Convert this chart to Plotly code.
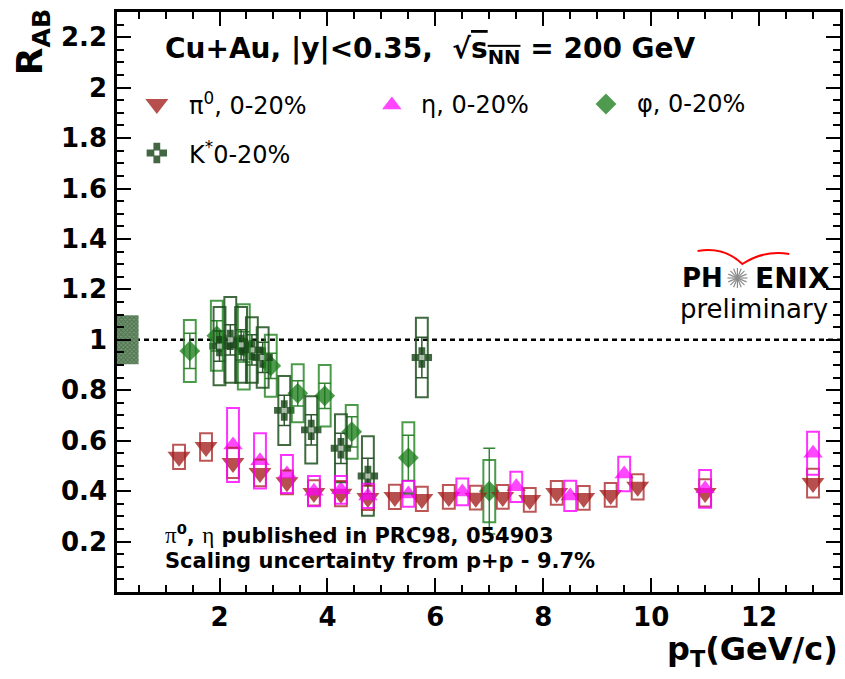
import numpy as np
import plotly.graph_objects as go

# ---------------- data ----------------
pi0_pt = [1.25, 1.75, 2.25, 2.75, 3.25, 3.75, 4.25, 4.75, 5.25, 5.75,
          6.25, 6.75, 7.25, 7.75, 8.25, 8.75, 9.25, 9.75, 11.0, 13.0]
pi0_raa = [0.536, 0.575, 0.512, 0.472, 0.435, 0.393, 0.390, 0.373, 0.377, 0.369,
           0.377, 0.374, 0.377, 0.365, 0.393, 0.373, 0.385, 0.417, 0.393, 0.432]
pi0_sys = [0.048, 0.055, 0.060, 0.053, 0.047, 0.050, 0.050, 0.048, 0.048, 0.048,
           0.047, 0.047, 0.047, 0.047, 0.047, 0.047, 0.047, 0.050, 0.054, 0.057]

eta_pt = [2.25, 2.75, 3.25, 3.75, 4.25, 4.75, 5.5, 6.5, 7.5, 8.5, 9.5, 11.0, 13.0]
eta_raa = [0.583, 0.520, 0.468, 0.400, 0.405, 0.381, 0.389, 0.397, 0.417, 0.381, 0.468, 0.409, 0.550]
eta_sys = [0.147, 0.110, 0.075, 0.060, 0.055, 0.048, 0.051, 0.053, 0.060, 0.060, 0.068, 0.075, 0.085]

phi_pt = [1.45, 1.95, 2.45, 2.95, 3.45, 3.95, 4.45, 5.5, 7.0]
phi_raa = [0.956, 1.016, 0.972, 0.897, 0.788, 0.778, 0.635, 0.532, 0.400]
phi_sys = [0.123, 0.139, 0.169, 0.123, 0.115, 0.122, 0.107, 0.141, 0.123]
phi_stat = [0.070, 0.060, 0.060, 0.050, 0.050, 0.050, 0.060, 0.090, 0.170]

kst_pt = [2.0, 2.2, 2.4, 2.6, 2.8, 3.2, 3.7, 4.25, 4.75, 5.75]
kst_raa = [0.975, 1.000, 0.980, 0.960, 0.930, 0.720, 0.643, 0.570, 0.460, 0.930]
kst_sys = [0.155, 0.170, 0.150, 0.130, 0.120, 0.137, 0.133, 0.135, 0.158, 0.158]
kst_stat = [0.060, 0.060, 0.060, 0.060, 0.060, 0.060, 0.060, 0.060, 0.070, 0.080]

scale_unc = 0.097
x_range = [0.1, 13.5]
y_range = [0.0, 2.3]
x_ticks = [2, 4, 6, 8, 10, 12]
y_ticks = [0.2, 0.4, 0.6, 0.8, 1.0, 1.2, 1.4, 1.6, 1.8, 2.0, 2.2]
y_ticktext = ["0.2", "0.4", "0.6", "0.8", "1", "1.2", "1.4", "1.6", "1.8", "2", "2.2"]

# ---------------- styles ----------------
W, H = 845, 679
ML, MR, MT, MB = 117, 2, 12, 87
PW, PH = W - ML - MR, H - MT - MB
FONT = "DejaVu Sans"

C_PI0 = "rgba(160,20,20,0.75)"
C_ETA = "rgba(255,0,255,0.72)"
C_PHI = "rgba(20,120,20,0.75)"
C_KST = "rgba(25,70,25,0.82)"
BOX_HW = 0.11


def px(x):
    return (x - ML) / PW


def py(y):
    return (H - MB - y) / PH


fig = go.Figure()
shapes = []

# scaling uncertainty box at 1
fig.add_trace(go.Bar(x=[0.3], y=[2 * scale_unc], base=[1 - scale_unc], width=[0.4],
                     marker=dict(color="rgba(100,135,100,1)", line=dict(width=0),
                                 pattern=dict(shape="x", fgcolor="rgba(35,75,35,1)",
                                              bgcolor="rgba(115,150,115,1)", size=3, solidity=0.5)),
                     showlegend=False, hoverinfo="skip"))


def add_boxes(xs, ys, ss, color):
    for x, y, s in zip(xs, ys, ss):
        shapes.append(dict(type="rect", xref="x", yref="y", x0=x - BOX_HW, x1=x + BOX_HW,
                           y0=y - s, y1=y + s, line=dict(color=color, width=2),
                           fillcolor="rgba(0,0,0,0)", layer="above"))


add_boxes(phi_pt, phi_raa, phi_sys, "rgba(30,130,30,0.8)")
add_boxes(kst_pt, kst_raa, kst_sys, "rgba(30,80,30,0.85)")
add_boxes(pi0_pt, pi0_raa, pi0_sys, "rgba(165,30,30,0.75)")
add_boxes(eta_pt, eta_raa, eta_sys, "rgba(255,0,255,0.8)")

# dotted line at 1
shapes.append(dict(type="line", xref="paper", yref="y", x0=0, x1=1, y0=1, y1=1,
                   line=dict(color="black", width=2.5, dash="5px,4px"), layer="below"))

fig.add_trace(go.Scatter(x=phi_pt, y=phi_raa, mode="markers",
                         marker=dict(symbol="diamond", size=16, color=C_PHI, line=dict(width=0)),
                         error_y=dict(type="data", array=phi_stat, color="rgba(30,120,30,0.9)",
                                      thickness=1.5, width=6),
                         showlegend=False))
fig.add_trace(go.Scatter(x=kst_pt, y=kst_raa, mode="markers",
                         marker=dict(symbol="cross", size=17, color=C_KST, line=dict(width=0)),
                         error_y=dict(type="data", array=kst_stat, color="rgba(25,70,25,0.9)",
                                      thickness=1.5, width=6),
                         showlegend=False))
fig.add_trace(go.Scatter(x=kst_pt, y=kst_raa, mode="markers",
                         marker=dict(symbol="square", size=5, color="rgba(255,255,255,0.6)", line=dict(width=0)),
                         showlegend=False, hoverinfo="skip"))
fig.add_trace(go.Scatter(x=pi0_pt, y=pi0_raa, mode="markers",
                         marker=dict(symbol="triangle-down", size=20, color=C_PI0, line=dict(width=0)),
                         showlegend=False))
fig.add_trace(go.Scatter(x=eta_pt, y=eta_raa, mode="markers",
                         marker=dict(symbol="triangle-up", size=17, color=C_ETA, line=dict(width=0)),
                         showlegend=False))

# ---------------- legend (manual) ----------------
leg_items = [
    ("triangle-down", 20, C_PI0, 157, 104, "π<sup>0</sup>, 0-20%", 187),
    ("triangle-up", 17, C_ETA, 393, 105, "η, 0-20%", 420),
    ("diamond", 16, C_PHI, 608, 104, "φ, 0-20%", 637),
    ("cross", 17, C_KST, 157, 153, "K<sup>*</sup>0-20%", 187),
]
annotations = []
for sym, sz, col, mx, my, txt, tx in leg_items:
    fig.add_trace(go.Scatter(x=[px(mx)], y=[py(my)], xaxis="x2", yaxis="y2", mode="markers",
                             marker=dict(symbol=sym, size=sz, color=col, line=dict(width=0)),
                             showlegend=False, hoverinfo="skip"))
    annotations.append(dict(xref="paper", yref="paper", x=px(tx), y=py(my), text=txt,
                            showarrow=False, xanchor="left", yanchor="middle",
                            font=dict(family=FONT, size=24, color="black")))
fig.add_trace(go.Scatter(x=[px(157)], y=[py(153)], xaxis="x2", yaxis="y2", mode="markers",
                         marker=dict(symbol="square", size=5, color="white"),
                         showlegend=False, hoverinfo="skip"))

# ---------------- texts ----------------
annotations.append(dict(xref="paper", yref="paper", x=px(163), y=py(50), xanchor="left", yanchor="middle",
                        text="<b>Cu+Au, |y|&lt;0.35,  √<span style='text-decoration:overline'>s<sub>NN</sub></span> = 200 GeV</b>",
                        showarrow=False, font=dict(family=FONT, size=28, color="black")))
annotations.append(dict(xref="paper", yref="paper", x=px(163), y=py(534), xanchor="left", yanchor="middle",
                        text="<span style='font-family:Liberation Serif;font-size:23px'>π</span><b><sup>0</sup>, </b>"
                             "<span style='font-family:Liberation Serif;font-size:23px'>η</span><b> published in PRC98, 054903</b>",
                        showarrow=False, font=dict(family=FONT, size=21, color="black")))
annotations.append(dict(xref="paper", yref="paper", x=px(163), y=py(561), xanchor="left", yanchor="middle",
                        text="<b>Scaling uncertainty from p+p - 9.7%</b>",
                        showarrow=False, font=dict(family=FONT, size=21, color="black")))
# axis titles
annotations.append(dict(xref="paper", yref="paper", x=px(843), y=py(651), xanchor="right", yanchor="middle",
                        text="<b>p<sub>T</sub>(GeV/c)</b>", showarrow=False,
                        font=dict(family=FONT, size=32, color="black")))
annotations.append(dict(xref="paper", yref="paper", x=px(32), y=py(42), xanchor="center", yanchor="middle",
                        text="<b>R<sub>AB</sub></b>", showarrow=False, textangle=-90,
                        font=dict(family=FONT, size=36, color="black")))
# PHENIX logo
annotations.append(dict(xref="paper", yref="paper", x=px(682), y=py(278), xanchor="left", yanchor="middle",
                        text="<b>PH</b>", showarrow=False, font=dict(family=FONT, size=26, color="black")))
annotations.append(dict(xref="paper", yref="paper", x=px(835), y=py(278), xanchor="right", yanchor="middle",
                        text="<b>ENIX</b>", showarrow=False, font=dict(family=FONT, size=28, color="black")))
annotations.append(dict(xref="paper", yref="paper", x=px(680), y=py(309), xanchor="left", yanchor="middle",
                        text="preliminary", showarrow=False, font=dict(family=FONT, size=26, color="black")))
cx, cy = 740, 278
for a in np.arange(0, 180, 22.5):
    r = 10
    dx, dy = r * np.cos(np.radians(a)), r * np.sin(np.radians(a))
    shapes.append(dict(type="line", xref="paper", yref="paper", x0=px(cx - dx), y0=py(cy - dy),
                       x1=px(cx + dx), y1=py(cy + dy), line=dict(color="rgba(140,140,140,1)", width=1.2)))
arc = [(700, 251), (726, 246), (745, 264), (766, 250), (792, 254)]
path = "M {:.4f},{:.4f} Q {:.4f},{:.4f} {:.4f},{:.4f} Q {:.4f},{:.4f} {:.4f},{:.4f}".format(
    px(arc[0][0]), py(arc[0][1]), px(arc[1][0]), py(arc[1][1]), px(arc[2][0]), py(arc[2][1]),
    px(arc[3][0]), py(arc[3][1]), px(arc[4][0]), py(arc[4][1]))
shapes.append(dict(type="path", xref="paper", yref="paper", path=path,
                   line=dict(color="red", width=2)))

tickfont = dict(family=FONT, size=26, color="black", weight="bold")
fig.update_layout(
    width=W, height=H, margin=dict(l=ML, r=MR, t=MT, b=MB),
    paper_bgcolor="white", plot_bgcolor="white",
    showlegend=False, shapes=shapes, annotations=annotations, barmode="overlay",
    xaxis=dict(range=x_range, tickmode="array", tickvals=x_ticks, ticks="inside", ticklen=14,
               tickwidth=2, tickcolor="black", showline=True, linewidth=2.5, linecolor="black",
               mirror="ticks", showgrid=False, zeroline=False, tickfont=tickfont,
               ticklabelstandoff=0,
               minor=dict(dtick=0.5, tick0=0, ticks="inside", ticklen=7, tickwidth=2,
                          tickcolor="black", showgrid=False)),
    yaxis=dict(range=y_range, tickmode="array", tickvals=y_ticks, ticktext=y_ticktext,
               ticks="inside", ticklen=14, tickwidth=2, tickcolor="black", showline=True,
               linewidth=2.5, linecolor="black", mirror="ticks", showgrid=False, zeroline=False,
               tickfont=tickfont, ticklabelstandoff=2,
               minor=dict(dtick=0.05, tick0=0, ticks="inside", ticklen=7, tickwidth=2,
                          tickcolor="black", showgrid=False)),
    xaxis2=dict(range=[0, 1], overlaying="x", visible=False, anchor="y2"),
    yaxis2=dict(range=[0, 1], overlaying="y", visible=False, anchor="x2"),
)

fig.write_html("out.html")
